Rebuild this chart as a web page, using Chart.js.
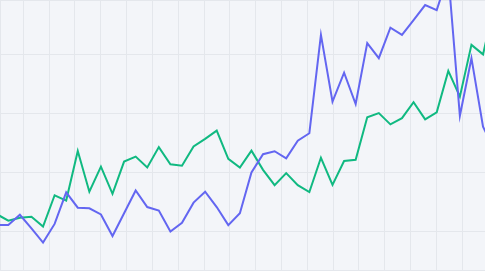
<!DOCTYPE html>
<html>
<head>
<meta charset="utf-8">
<script src="https://cdn.jsdelivr.net/npm/chart.js@4/dist/chart.umd.min.js"></script>
<style>
  html, body { margin: 0; padding: 0; background: #f3f5f9; }
  #wrap { width: 485px; height: 271px; position: relative; }
</style>
</head>
<body>
<div id="wrap"><canvas id="lineChartDiv"></canvas></div>
<script>
// values, one per step
var purpleValues = [22.2, 22.2, 25.7, 21.1, 16.3, 22.6, 33.3, 28.1, 27.9, 25.8,
	18.5, 26.2, 33.9, 28.3, 27.1, 20.0, 23.0, 29.8, 33.5, 28.3,
	22.2, 26.2, 40.0, 46.2, 47.2, 44.8, 50.8, 53.3, 86.6, 64.0,
	73.8, 63.2, 83.8, 78.7, 89.0, 86.6, 91.6, 96.7, 95.0, 106.9,
	59.2, 78.7, 55.5, 47.6];
var greenValues = [25.9, 23.7, 24.7, 25.0, 21.7, 32.3, 30.5, 47.3, 33.5, 42.0,
	32.8, 43.7, 45.4, 41.7, 48.6, 42.8, 42.3, 48.8, 51.4, 54.2,
	44.6, 41.7, 47.4, 40.9, 35.7, 39.8, 35.7, 33.4, 45.0, 35.8,
	43.9, 44.3, 58.7, 60.1, 56.3, 58.4, 63.8, 58.0, 60.4, 74.4,
	65.7, 83.2, 80.0, 97.0];

function toPoints(values) {
	var pts = [];
	for (var i = 0; i < values.length; i++) {
		pts.push({ x: i, y: values[i] });
	}
	return pts;
}

var gridColor = '#e4e7ec';

var lineChart = new Chart(document.getElementById('lineChartDiv'), {
	type: 'line',
	data: {
		datasets: [{
			label: 'A',
			data: toPoints(purpleValues),
			borderColor: '#6366f1',
			backgroundColor: 'transparent',
			borderWidth: 2,
			pointRadius: 0,
			tension: 0,
			fill: false
		}, {
			label: 'B',
			data: toPoints(greenValues),
			borderColor: '#10b981',
			backgroundColor: 'transparent',
			borderWidth: 2,
			pointRadius: 0,
			tension: 0,
			fill: false
		}]
	},
	options: {
		responsive: true,
		maintainAspectRatio: false,
		animation: false,
		layout: { padding: { left: 0, right: 0, top: 0, bottom: 1 } },
		plugins: {
			legend: { display: false },
			tooltip: { enabled: false }
		},
		scales: {
			x: {
				type: 'linear',
				display: false,
				min: 0.283,
				max: 42.17
			},
			xGrid: {
				type: 'linear',
				axis: 'x',
				position: 'bottom',
				min: -0.902,
				max: 17.88,
				ticks: { display: false, stepSize: 1, includeBounds: false, maxTicksLimit: 100 },
				grid: { color: gridColor, drawTicks: false },
				border: { display: true, color: gridColor }
			},
			y: {
				type: 'linear',
				min: 7.0,
				max: 98.4,
				ticks: { display: false, stepSize: 20 },
				grid: { color: gridColor, drawTicks: false },
				border: { display: true, color: gridColor }
			}
		}
	}
});
</script>
</body>
</html>
